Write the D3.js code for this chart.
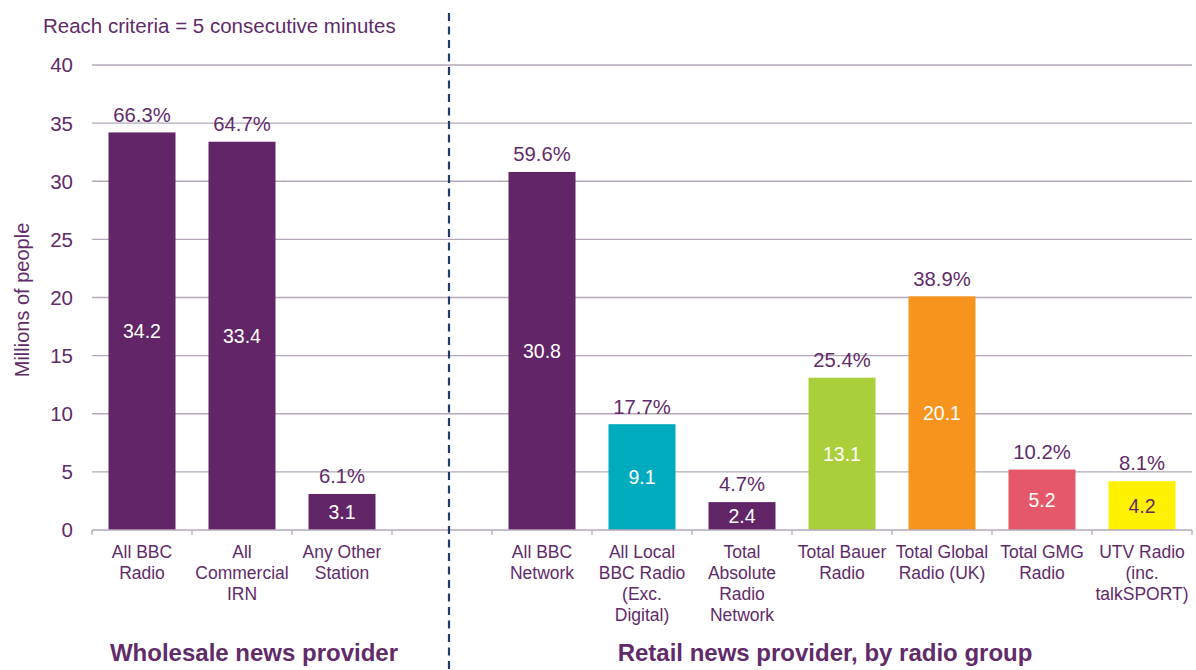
<!DOCTYPE html>
<html>
<head>
<meta charset="utf-8">
<script src="https://cdn.jsdelivr.net/npm/d3@7"></script>
<style>
  body { margin: 0; background: #fff; }
  text { font-family: "Liberation Sans", Arial, sans-serif; fill: #612b69; }
</style>
</head>
<body>
<svg id="chart" width="1196" height="670"></svg>
<script>
// categories (empty slot separates the two groups)
const CATEGORIES = [
  ["All BBC", "Radio"],
  ["All", "Commercial", "IRN"],
  ["Any Other", "Station"],
  [],
  ["All BBC", "Network"],
  ["All Local", "BBC Radio", "(Exc.", "Digital)"],
  ["Total", "Absolute", "Radio", "Network"],
  ["Total Bauer", "Radio"],
  ["Total Global", "Radio (UK)"],
  ["Total GMG", "Radio"],
  ["UTV Radio", "(inc.", "talkSPORT)"],
];
const VALUES = [34.2, 33.4, 3.1, null, 30.8, 9.1, 2.4, 13.1, 20.1, 5.2, 4.2];
const PERCENTS = ["66.3%", "64.7%", "6.1%", "", "59.6%", "17.7%", "4.7%", "25.4%", "38.9%", "10.2%", "8.1%"];
const COLORS = ["#622567", "#622567", "#622567", null, "#622567", "#00abbd", "#622567", "#a9cf3a", "#f7941d", "#e5576a", "#fff200"];
const LABEL_COLORS = ["#fff", "#fff", "#fff", null, "#fff", "#fff", "#fff", "#fff", "#fff", "#fff", "#612b69"];
const Y_TICKS = [0, 5, 10, 15, 20, 25, 30, 35, 40];

const config = {
  width: 1100,
  height: 465,
  margin: { top: 65, left: 92 },
};

const svg = d3
  .select("#chart")
  .append("g")
  .attr("transform", `translate(${config.margin.left}, ${config.margin.top})`);

const idx = d3.range(CATEGORIES.length);

// band scale (x-axis)
const xScale = d3
  .scaleBand()
  .domain(idx)
  .range([0, config.width])
  .paddingInner(0.33)
  .paddingOuter(0.165);

// millions scale (y-axis)
const yScale = d3.scaleLinear().domain([0, 40]).range([config.height, 0]);

const step = xScale.step();

// gridlines
svg
  .selectAll(".grid")
  .data(Y_TICKS.filter((t) => t > 0))
  .join("line")
  .attr("class", "grid")
  .attr("x1", 0)
  .attr("x2", config.width)
  .attr("y1", (d) => yScale(d))
  .attr("y2", (d) => yScale(d))
  .attr("stroke", "#b5a8ba")
  .attr("stroke-width", 1.3);

// y tick labels
svg
  .selectAll(".ytick")
  .data(Y_TICKS)
  .join("text")
  .attr("class", "ytick")
  .attr("text-anchor", "end")
  .attr("x", -19)
  .attr("y", (d) => yScale(d))
  .attr("dy", "0.36em")
  .style("font-size", "20.5px")
  .text((d) => d);

// bars
const barData = idx.filter((i) => VALUES[i] !== null);
svg
  .selectAll(".bar")
  .data(barData)
  .join("rect")
  .attr("class", "bar")
  .attr("x", (i) => xScale(i))
  .attr("width", xScale.bandwidth())
  .attr("y", (i) => yScale(VALUES[i]))
  .attr("height", (i) => config.height - yScale(VALUES[i]))
  .attr("fill", (i) => COLORS[i]);

// x axis line and tick marks at band boundaries
svg
  .append("line")
  .attr("x1", 0)
  .attr("x2", config.width)
  .attr("y1", config.height)
  .attr("y2", config.height)
  .attr("stroke", "#b5a8ba")
  .attr("stroke-width", 1.3);
svg
  .selectAll(".xtick")
  .data(d3.range(CATEGORIES.length + 1))
  .join("line")
  .attr("class", "xtick")
  .attr("x1", (i) => i * step)
  .attr("x2", (i) => i * step)
  .attr("y1", config.height)
  .attr("y2", config.height + 5)
  .attr("stroke", "#b5a8ba")
  .attr("stroke-width", 1.3);

// value labels in the middle of the bars
svg
  .selectAll(".val")
  .data(barData)
  .join("text")
  .attr("class", "val")
  .attr("text-anchor", "middle")
  .attr("x", (i) => xScale(i) + xScale.bandwidth() / 2)
  .attr("y", (i) => yScale(VALUES[i] / 2))
  .attr("dy", "0.36em")
  .style("font-size", "19.5px")
  .style("fill", (i) => LABEL_COLORS[i])
  .text((i) => VALUES[i].toFixed(1));

// percentage labels above bars
svg
  .selectAll(".pct")
  .data(barData)
  .join("text")
  .attr("class", "pct")
  .attr("text-anchor", "middle")
  .attr("x", (i) => xScale(i) + xScale.bandwidth() / 2)
  .attr("y", (i) => yScale(VALUES[i]) - 18)
  .attr("dy", "0.36em")
  .style("font-size", "20.3px")
  .text((i) => PERCENTS[i]);

// category labels
const cat = svg
  .selectAll(".cat")
  .data(idx)
  .join("text")
  .attr("class", "cat")
  .attr("text-anchor", "middle")
  .style("font-size", "17.5px");
cat
  .selectAll("tspan")
  .data((i) => CATEGORIES[i].map((line) => ({ i, line })))
  .join("tspan")
  .attr("x", (d) => xScale(d.i) + xScale.bandwidth() / 2)
  .attr("y", (d, j) => config.height + 22 + j * 21)
  .attr("dy", "0.36em")
  .text((d) => d.line);

// dashed separator
svg
  .append("line")
  .attr("x1", 3 * step + 57)
  .attr("x2", 3 * step + 57)
  .attr("y1", -52)
  .attr("y2", 620)
  .attr("stroke", "#1f3b70")
  .attr("stroke-width", 2.2)
  .attr("stroke-dasharray", "8,5.5");

// group titles
svg
  .append("text")
  .attr("text-anchor", "middle")
  .attr("x", 162)
  .attr("y", config.height + 122)
  .attr("dy", "0.36em")
  .style("font-size", "24px")
  .style("font-weight", "bold")
  .text("Wholesale news provider");
svg
  .append("text")
  .attr("text-anchor", "middle")
  .attr("x", 733)
  .attr("y", config.height + 122)
  .attr("dy", "0.36em")
  .style("font-size", "24px")
  .style("font-weight", "bold")
  .text("Retail news provider, by radio group");

// y-axis label
svg
  .append("text")
  .attr("text-anchor", "middle")
  .attr("transform", "rotate(-90)")
  .attr("x", -235)
  .attr("y", -63)
  .style("font-size", "20px")
  .text("Millions of people");

// note
svg
  .append("text")
  .attr("x", -49)
  .attr("y", -32)
  .style("font-size", "20.5px")
  .text("Reach criteria = 5 consecutive minutes");
</script>
</body>
</html>
